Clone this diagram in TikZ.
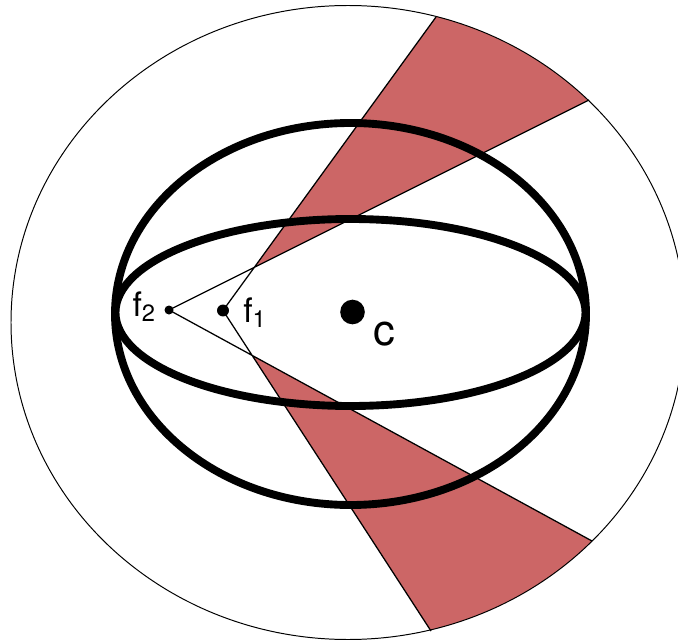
\documentclass[tikz,border=0pt]{standalone}
\usepackage{fontspec}
\setmainfont{TeX Gyre Heros}
\usepackage{xcolor}
\usepackage{tikz}
\usetikzlibrary{calc}
\definecolor{wedgered}{RGB}{204,102,102}
\newcommand{\focuslabel}{\fontsize{24}{28}\selectfont}

\begin{document}
\begin{tikzpicture}[x=0.025cm, y=-0.025cm,
    dot/.style={circle, fill=black, inner sep=0pt},
    orbit/.style={line width=5.6pt},
    ray/.style={line width=0.9pt}]
  \useasboundingbox (0,0) rectangle (678,644);
  \clip (0,0) rectangle (678,644);
  % foci, centre and the points where the rays meet the outer circle
  \coordinate (f1) at (223,310.5);
  \coordinate (f2) at (169,310);
  \coordinate (cc) at (352.5,312);
  \coordinate (u1) at (436,17);
  \coordinate (u2) at (589,100);
  \coordinate (l1) at (431,631);
  \coordinate (l2) at (592,541);
  \coordinate (pu) at (intersection of f1--u1 and f2--u2);
  \coordinate (pl) at (intersection of f1--l1 and f2--l2);
  % shaded wedges, cut off by the outer circle
  \begin{scope}
    \clip (348,322.5) ellipse [x radius=337, y radius=317];
    \fill[wedgered] (pu) -- ($(pu)!1.4!(u1)$) -- ($(pu)!1.4!(u2)$) -- cycle;
    \fill[wedgered] (pl) -- ($(pl)!1.4!(l1)$) -- ($(pl)!1.4!(l2)$) -- cycle;
  \end{scope}
  \draw[line width=0.7pt] (348,322.5) ellipse [x radius=337, y radius=317];
  \draw[ray] (f2) -- (u2) (f2) -- (l2) (f1) -- (u1) (f1) -- (l1);
  % the two ellipses
  \draw[orbit] (350.5,314) ellipse [x radius=235.5, y radius=191];
  \draw[orbit] (350.5,312.5) ellipse [x radius=235, y radius=93.5];
  % points
  \node[dot, minimum size=6.4pt] (F2) at (f2) {};
  \node[dot, minimum size=8.5pt] (F1) at (f1) {};
  \node[dot, minimum size=17.5pt] (C) at (cc) {};
  \node[anchor=base east, inner sep=0pt] (F2lab) at (156,316) {\focuslabel f\textsubscript{2}};
  \node[anchor=base west, inner sep=0pt] (F1lab) at (243,322) {\focuslabel f\textsubscript{1}};
  \node[anchor=base west, inner sep=0pt] (Clab) at (373,345) {\fontsize{31}{36}\selectfont c};
\end{tikzpicture}
\end{document}
